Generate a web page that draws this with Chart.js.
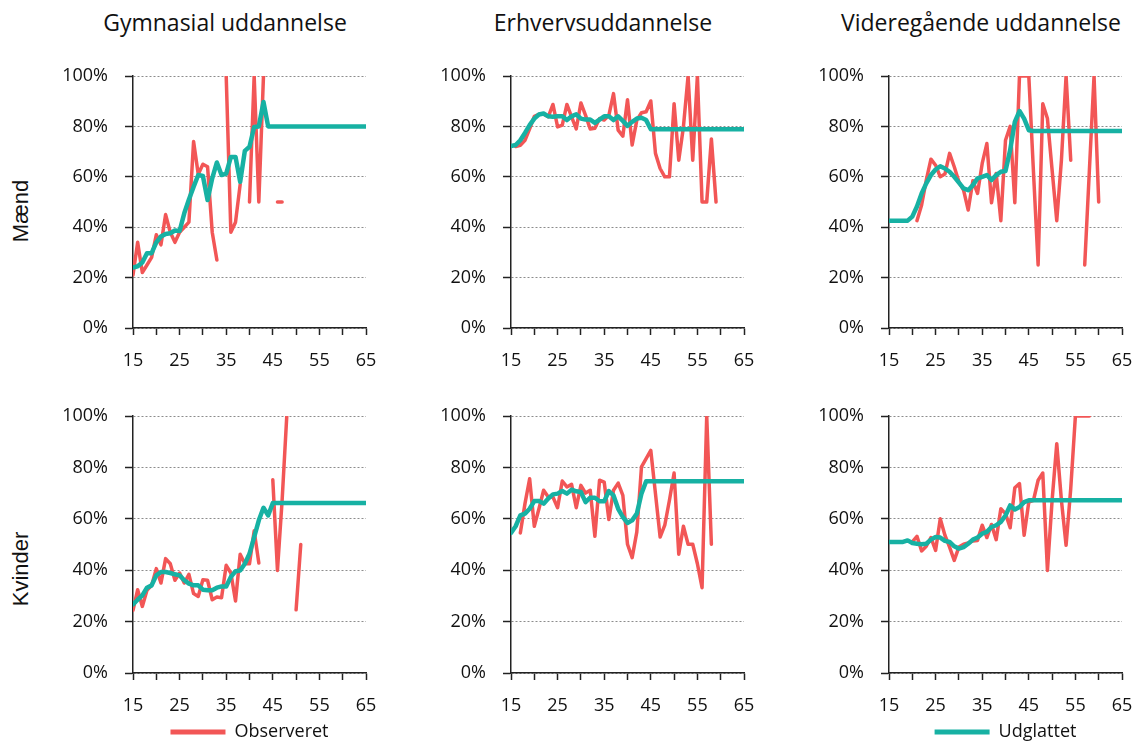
<!DOCTYPE html>
<html lang="da">
<head>
<meta charset="utf-8">
<title>Observeret og udglattet andel efter alder</title>
<script src="https://cdn.jsdelivr.net/npm/chart.js@4.4.1/dist/chart.umd.min.js"></script>
<style>
    html, body { margin: 0; padding: 0; background: #fff; overflow: hidden; }
    #page { position: relative; width: 1135px; height: 742px; font-family: "Open Sans", sans-serif; color: #111; }
    .panel { position: absolute; }
    .col-title { position: absolute; top: 11px; width: 360px; margin-left: -180px; text-align: center; font-size: 23px; line-height: 23px; white-space: nowrap; }
    .row-label { position: absolute; font-family: "Liberation Sans", Arial, sans-serif; font-size: 22px; white-space: nowrap; transform: translate(-50%, -50%) rotate(-90deg); }
</style>
</head>
<body>
<div id="page"></div>
<script>
// ── Data ────────────────────────────────────────────────
const ages = [15, 16, 17, 18, 19, 20, 21, 22, 23, 24, 25, 26, 27, 28, 29, 30, 31, 32, 33, 34, 35,
    36, 37, 38, 39, 40, 41, 42, 43, 44, 45, 46, 47, 48, 49, 50, 51, 52, 53, 54, 55,
    56, 57, 58, 59, 60, 61, 62, 63, 64, 65];
const xTickLabels = [15, 25, 35, 45, 55, 65];
const columnTitles = ['Gymnasial uddannelse', 'Erhvervsuddannelse', 'Videregående uddannelse'];
const rowLabels = ['Mænd', 'Kvinder'];
const seriesNames = ['Observeret', 'Udglattet'];

// Mænd
const gymMObserved = [21, 34, 22, 25, 28, 37, 33, 45, 38, 34,
    38, 40, 42, 74, 61, 65, 64, 38, 27, null,
    100, 38, 42, 57, null, 50, 100, 50, 100, null,
    null, 50, 50, null, null, null, null, null, null, null,
    null, null, null, null, null, null, null, null, null, null, null];
const gymMSmoothed = [24, 24.5, 26, 29.7, 29.7, 34, 36.3, 37.3, 37.6, 38.7,
    38.5, 45.5, 51, 56, 60.7, 60.3, 50.8, 59.4, 65.7, 60.7,
    61.3, 67.9, 67.9, 58, 70.3, 71.9, 79.8, 80, 89.7, 80,
    80, 80, 80, 80, 80, 80, 80, 80, 80, 80,
    80, 80, 80, 80, 80, 80, 80, 80, 80, 80, 80];
const erhMObserved = [null, 72, 72.5, 74.5, 79, 84, 84.8, 84.8, 83.8, 88.7,
    79.8, 80.5, 88.7, 83.8, 79, 89.3, 84.4, 79, 79.3, 83.1,
    82.5, 84.4, 93, 78.5, 76.1, 90.6, 72.6, 82.5, 85.4, 85.8,
    90.1, 69.3, 63.3, 60, 60, 89, 66.6, 79.8, 100, 66.6,
    100, 50, 50, 75, 50, null, null, null, null, null, null];
const erhMSmoothed = [72.2, 72.6, 74.5, 77.4, 80.5, 83.1, 84.7, 85.1, 84, 83.8,
    84, 84, 82.5, 84, 84.8, 83.1, 82.7, 82.7, 81.4, 82.7,
    84, 84, 82.5, 84, 82.2, 80.2, 81.8, 83.1, 83.4, 82.5,
    78.9, 78.9, 78.9, 78.9, 78.9, 78.9, 78.9, 78.9, 78.9, 78.9,
    78.9, 78.9, 78.9, 78.9, 78.9, 78.9, 78.9, 78.9, 78.9, 78.9, 78.9];
const vidMObserved = [null, null, null, null, null, null, 42.6, 48.8, 58.7, 67,
    64.6, 60, 61.1, 69.3, 64, 58, 54.7, 46.8, 58.4, 53.4,
    65.3, 73.2, 49.7, 61.3, 42.6, 74.5, 80, 49.7, 100, 100,
    100, 62, 25, 89, 83.1, 62.7, 42.6, 66.6, 100, 66.6,
    null, null, 25, 62.5, 100, 50, null, null, null, null, null];
const vidMSmoothed = [42.6, 42.6, 42.6, 42.6, 42.6, 44.2, 48.2, 53.4, 57.4, 60.7,
    62.9, 64.2, 63.3, 62, 60, 57.7, 55.4, 54.7, 56.7, 59.4,
    60, 60.7, 58.7, 60.7, 62, 62.3, 70.6, 81.8, 86.1, 83.1,
    78.5, 78.2, 78.2, 78.2, 78.2, 78.2, 78.2, 78.2, 78.2, 78.2,
    78.2, 78.2, 78.2, 78.2, 78.2, 78.2, 78.2, 78.2, 78.2, 78.2, 78.2];

// Kvinder
const gymKObserved = [24.4, 32.4, 25.9, 32.2, 34.1, 40.6, 35, 44.5, 42.5, 36.1,
    38.9, 35, 38.4, 30.9, 29.8, 36.3, 36.1, 28.5, 29.6, 29.3,
    41.9, 38.9, 28, 46.2, 42.5, 42.5, 55.3, 42.8, null, null,
    75.2, 39.9, 67.2, 100, null, 24.6, 50, null, null, null,
    null, null, null, null, null, null, null, null, null, null, null];
const gymKSmoothed = [26.7, 28.5, 30.2, 33.2, 34.1, 38, 39.3, 39.3, 38.9, 38.4,
    38, 36.1, 34.8, 34.1, 34.1, 32.4, 32.2, 32.2, 33.2, 33.7,
    33.7, 37.4, 39.6, 39.9, 42.5, 46.4, 52.9, 59.4, 64.3, 61.3,
    66.1, 66.1, 66.1, 66.1, 66.1, 66.1, 66.1, 66.1, 66.1, 66.1,
    66.1, 66.1, 66.1, 66.1, 66.1, 66.1, 66.1, 66.1, 66.1, 66.1, 66.1];
const erhKObserved = [null, null, 54.5, 65.9, 75.6, 57.1, 63.9, 71.1, 68.5, 68.5,
    64.3, 74.7, 72.4, 73.4, 64.3, 73, 70, 71.1, 53.2, 75,
    74.3, 59.7, 71.1, 73.9, 69.1, 50.1, 44.9, 54.9, 80.2, 83.4,
    86.6, 69.8, 52.9, 57.5, 67.2, 77.8, 46.2, 57.1, 50.1, 50.1,
    42.5, 33.2, 100, 50.1, null, null, null, null, null, null, null];
const erhKSmoothed = [54.5, 57.1, 61.3, 62, 63.9, 66.9, 66.9, 65.9, 67.9, 69.5,
    69.8, 70.8, 69.8, 71.3, 70.7, 70.4, 66.5, 68.2, 68.2, 66.8,
    66.8, 70.8, 69.1, 63.9, 60.7, 58.4, 59.4, 62, 69.8, 74.6,
    74.6, 74.6, 74.6, 74.6, 74.6, 74.6, 74.6, 74.6, 74.6, 74.6,
    74.6, 74.6, 74.6, 74.6, 74.6, 74.6, 74.6, 74.6, 74.6, 74.6, 74.6];
const vidKObserved = [null, null, null, null, null, 51, 53.2, 47.5, 49.3, 52.7,
    47.7, 60, 53.6, 49, 43.8, 49, 50.1, 50.6, 51.4, 51.6,
    57.5, 52.7, 57.8, 51.9, 63.9, 62, 56.5, 72.1, 73.7, 53.6,
    66.5, 67.2, 75, 77.8, 39.9, 67.2, 89.2, 67.2, 49.7, 71.7,
    100, 100, 100, 100, null, null, null, null, null, null, null];
const vidKSmoothed = [51, 51, 51, 51, 51.6, 50.6, 50.3, 50.1, 50.3, 51.9,
    52.9, 52.7, 51.4, 51, 49.3, 48.4, 49, 50.3, 51.9, 52.7,
    54.2, 54.9, 56.8, 57.5, 58.8, 61.3, 65.2, 63.6, 64.6, 66.5,
    67.2, 67.2, 67.2, 67.2, 67.2, 67.2, 67.2, 67.2, 67.2, 67.2,
    67.2, 67.2, 67.2, 67.2, 67.2, 67.2, 67.2, 67.2, 67.2, 67.2, 67.2];

const panels = [
    { row: 0, col: 0, observed: gymMObserved, smoothed: gymMSmoothed, legend: null },
    { row: 0, col: 1, observed: erhMObserved, smoothed: erhMSmoothed, legend: null },
    { row: 0, col: 2, observed: vidMObserved, smoothed: vidMSmoothed, legend: null },
    { row: 1, col: 0, observed: gymKObserved, smoothed: gymKSmoothed, legend: seriesNames[0] },
    { row: 1, col: 1, observed: erhKObserved, smoothed: erhKSmoothed, legend: null },
    { row: 1, col: 2, observed: vidKObserved, smoothed: vidKSmoothed, legend: seriesNames[1] }
];

const SmallMultiples = {
    // ── Layout ──────────────────────────────────────────────
    colLeft: [133, 511, 889],     // left edge of each plot area
    rowTop: [76, 416],            // top edge (100%) of each plot area
    rowHeight: [252, 257],
    plotWidth: 233,
    yAxisWidth: 70,
    padTop: 12,
    padRight: 16,
    xAxisHeight: 40,
    legendHeight: 38,
    red: '#F25656',
    teal: '#17B1A3',

    init() {
        this.page = document.getElementById('page');
        this.renderLabels();
        panels.forEach(p => this.renderPanel(p));
    },

    // ── Rendering ───────────────────────────────────────────
    renderLabels() {
        columnTitles.forEach((t, c) => {
            const el = document.createElement('div');
            el.className = 'col-title';
            el.style.left = (this.colLeft[c] + 92) + 'px';
            el.textContent = t;
            this.page.appendChild(el);
        });
        const rowCenters = [211, 569];
        rowLabels.forEach((t, r) => {
            const el = document.createElement('div');
            el.className = 'row-label';
            el.style.left = '21px';
            el.style.top = rowCenters[r] + 'px';
            el.textContent = t;
            this.page.appendChild(el);
        });
    },

    renderPanel(p) {
        const box = document.createElement('div');
        box.className = 'panel';
        const h = this.padTop + this.rowHeight[p.row] + this.xAxisHeight + (p.legend ? this.legendHeight : 0);
        box.style.left = (this.colLeft[p.col] - this.yAxisWidth) + 'px';
        box.style.top = (this.rowTop[p.row] - this.padTop) + 'px';
        box.style.width = (this.yAxisWidth + this.plotWidth + this.padRight) + 'px';
        box.style.height = h + 'px';
        const canvas = document.createElement('canvas');
        box.appendChild(canvas);
        this.page.appendChild(box);

        const toPoints = vals => ages.map((a, i) => ({ x: a, y: vals[i] }));
        const keep = p.legend;

        new Chart(canvas, {
            type: 'line',
            data: {
                datasets: [{
                    label: seriesNames[1],
                    data: toPoints(p.smoothed),
                    borderColor: this.teal,
                    backgroundColor: this.teal,
                    borderWidth: 4.5
                }, {
                    label: seriesNames[0],
                    data: toPoints(p.observed),
                    borderColor: this.red,
                    backgroundColor: this.red,
                    borderWidth: 3.5
                }]
            },
            options: {
                responsive: true,
                maintainAspectRatio: false,
                animation: false,
                spanGaps: false,
                layout: { padding: { top: this.padTop, right: this.padRight, left: 0, bottom: 0 } },
                elements: {
                    point: { radius: 0, hoverRadius: 0 },
                    line: { tension: 0, borderJoinStyle: 'round', borderCapStyle: 'round' }
                },
                plugins: {
                    tooltip: { enabled: false },
                    legend: {
                        display: !!keep,
                        position: 'bottom',
                        fullSize: false,
                        labels: {
                            boxWidth: 55,
                            boxHeight: 5,
                            color: '#111',
                            font: { family: 'Open Sans', size: 18 },
                            generateLabels(chart) {
                                return Chart.defaults.plugins.legend.labels.generateLabels(chart)
                                    .filter(l => l.text === keep)
                                    .map(l => Object.assign(l, { lineWidth: 0, fillStyle: l.strokeStyle }));
                            }
                        }
                    }
                },
                scales: {
                    x: {
                        type: 'linear',
                        min: 15,
                        max: 65,
                        // fixed axis box so every plot area lands on the same grid
                        afterFit: s => { s.height = this.xAxisHeight; s.paddingLeft = 0; s.paddingRight = 0; },
                        ticks: {
                            stepSize: 5,
                            autoSkip: false,
                            maxRotation: 0,
                            padding: 15,
                            color: '#111',
                            font: { family: 'Open Sans', size: 18 },
                            callback: v => xTickLabels.includes(v) ? String(v) : ''
                        },
                        grid: { drawOnChartArea: false, drawTicks: true, tickLength: 7, tickColor: '#222', tickWidth: 1.5 },
                        border: { color: '#222', width: 1.5 }
                    },
                    y: {
                        min: 0,
                        max: 100,
                        afterFit: s => { s.width = this.yAxisWidth; s.paddingTop = 0; s.paddingBottom = 0; },
                        ticks: {
                            stepSize: 20,
                            padding: 17,
                            color: '#111',
                            font: { family: 'Open Sans', size: 18 },
                            callback: v => v + '%'
                        },
                        grid: { color: '#8c8c8c', lineWidth: 1, tickLength: 8, tickColor: '#222', tickWidth: 1.5 },
                        border: { color: '#222', width: 1.5, dash: [2, 2] }
                    }
                }
            }
        });
    }
};

SmallMultiples.init();
</script>
</body>
</html>
